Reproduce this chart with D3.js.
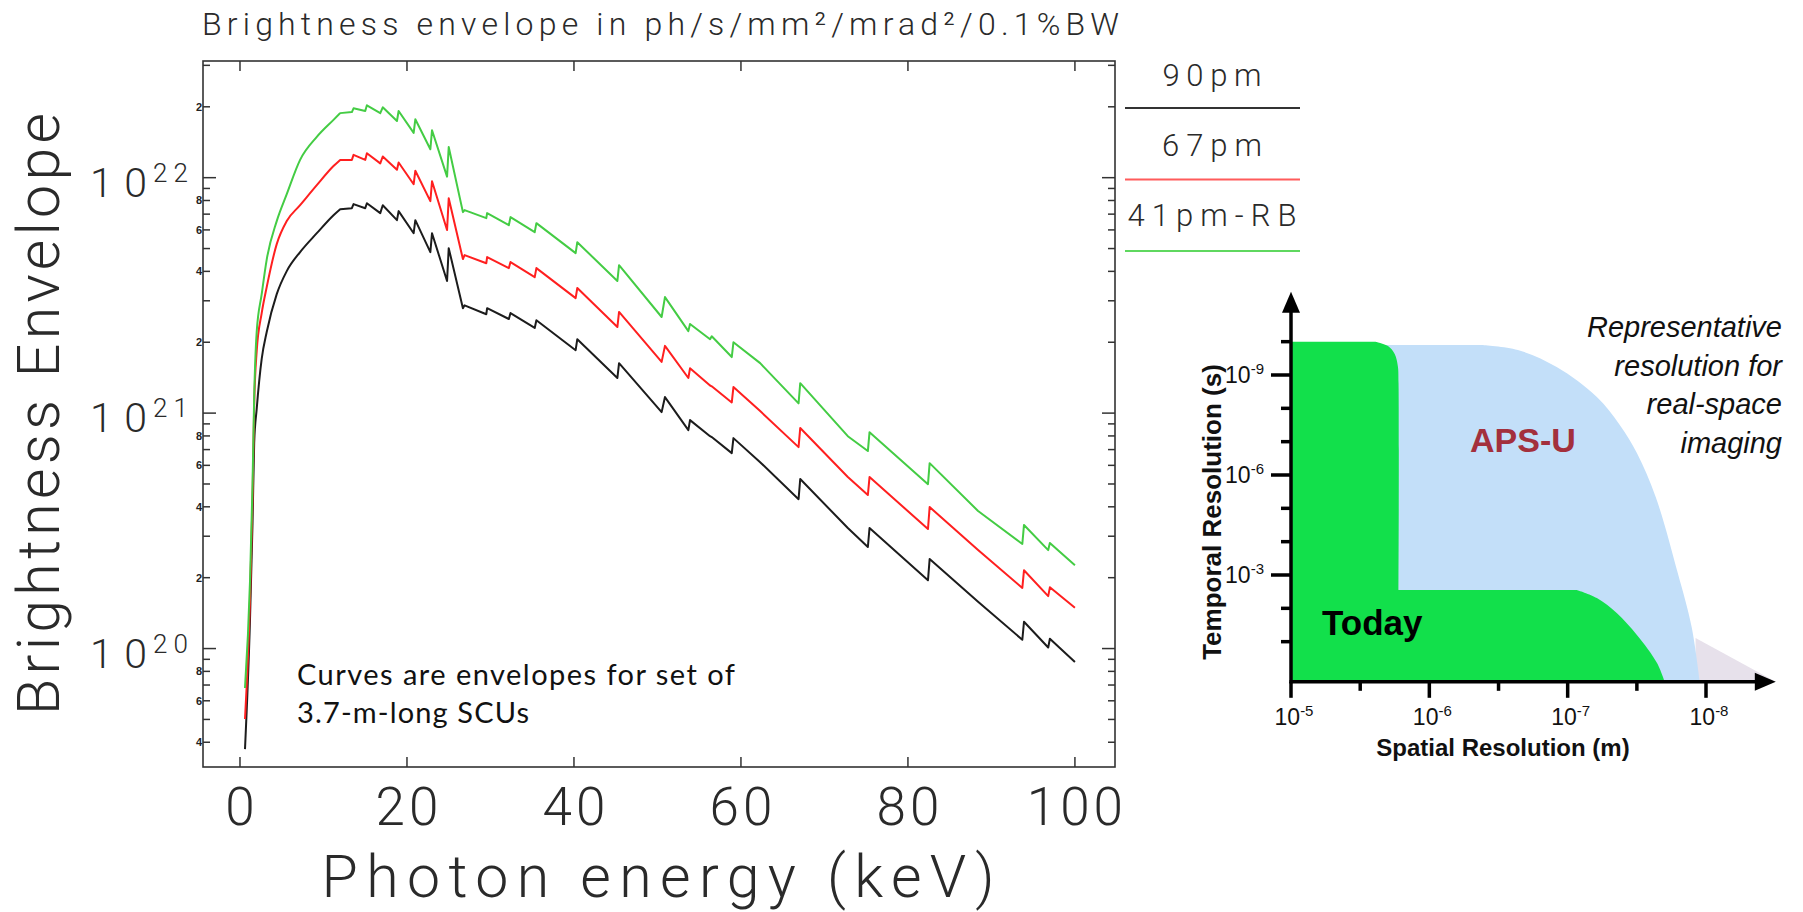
<!DOCTYPE html>
<html>
<head>
<meta charset="utf-8">
<script src="https://cdn.jsdelivr.net/npm/d3@7"></script>
<style>
  html, body { margin: 0; padding: 0; background: #fff; }
  svg { display: block; }
  .idl { font-family: Roboto, "DejaVu Sans", sans-serif; font-weight: 300; fill: #2a2a2a; }
  .arial { font-family: "Liberation Sans", Arial, sans-serif; fill: #111; }
</style>
</head>
<body>
<svg id="chart" width="1803" height="912"></svg>
<script>
// ---- main chart data (photon energy in keV, brightness in ph/s/mm2/mrad2/0.1%BW)
const energy = [0.6, 1.2, 1.5, 1.7, 2.0, 2.6, 3.2, 4.4, 5.6, 7.2, 9.2, 11.2, 12.0, 13.4, 13.6, 15.0, 15.2,
  16.8, 17.1, 18.8, 19.0, 20.8, 21.0, 22.8, 23.0, 24.8, 25.0, 26.7, 26.9, 29.5, 29.6, 32.2, 32.4, 35.3, 35.5,
  40.2, 40.4, 45.2, 45.4, 50.5, 50.9, 53.7, 53.9, 56.3, 56.5, 58.9, 59.1, 62.3, 66.9, 67.1, 72.8, 75.2, 75.4,
  82.4, 82.6, 88.4, 93.7, 93.9, 96.8, 97.0, 100];

const bright90 = [3.74e19, 1.33e20, 3.38e20, 7.46e20, 1.04e21, 1.70e21, 2.21e21, 3.20e21, 4.01e21, 4.83e21,
  5.81e21, 6.93e21, 7.35e21, 7.42e21, 7.72e21, 7.42e21, 7.79e21, 7.07e21, 7.64e21, 6.60e21,
  7.21e21, 5.81e21, 6.60e21, 4.83e21, 5.81e21, 3.64e21, 5.02e21, 2.79e21, 2.87e21, 2.63e21,
  2.79e21, 2.51e21, 2.66e21, 2.30e21, 2.48e21, 1.85e21, 2.06e21, 1.41e21, 1.63e21, 1.01e21,
  1.17e21, 8.47e20, 9.34e20, 7.98e20, 7.91e20, 6.76e20, 7.83e20, 6.19e20, 4.31e20, 5.25e20,
  3.25e20, 2.70e20, 3.25e20, 1.95e20, 2.40e20, 1.58e20, 1.09e20, 1.30e20, 1.01e20, 1.10e20, 8.76e19];

const bright67 = [5.02e19, 1.61e20, 4.27e20, 1.08e21, 1.83e21, 2.66e21, 3.43e21, 5.22e21, 6.54e21, 7.64e21,
  9.29e21, 1.12e22, 1.19e22, 1.19e22, 1.25e22, 1.19e22, 1.27e22, 1.15e22, 1.23e22, 1.08e22,
  1.16e22, 9.38e21, 1.07e22, 7.95e21, 9.66e21, 5.99e21, 8.18e21, 4.51e21, 4.69e21, 4.33e21,
  4.60e21, 4.13e21, 4.38e21, 3.78e21, 4.13e21, 3.08e21, 3.40e21, 2.32e21, 2.69e21, 1.65e21,
  1.93e21, 1.41e21, 1.55e21, 1.31e21, 1.30e21, 1.11e21, 1.29e21, 1.02e21, 7.17e20, 8.64e20,
  5.35e20, 4.49e20, 5.35e20, 3.22e20, 3.99e20, 2.62e20, 1.81e20, 2.15e20, 1.67e20, 1.82e20, 1.49e20];

const bright41 = [6.8e19, 1.93e20, 4.95e20, 1.17e21, 2.21e21, 3.20e21, 4.49e21, 6.54e21, 8.51e21, 1.19e22,
  1.49e22, 1.76e22, 1.88e22, 1.90e22, 1.97e22, 1.92e22, 2.03e22, 1.88e22, 1.99e22, 1.74e22,
  1.92e22, 1.55e22, 1.77e22, 1.32e22, 1.59e22, 1.01e22, 1.35e22, 7.14e21, 7.28e21, 6.73e21,
  7.07e21, 6.28e21, 6.80e21, 5.87e21, 6.41e21, 4.78e21, 5.32e21, 3.64e21, 4.25e21, 2.56e21,
  3.11e21, 2.23e21, 2.39e21, 2.06e21, 2.12e21, 1.73e21, 2.00e21, 1.63e21, 1.10e21, 1.34e21,
  7.98e20, 6.90e20, 8.30e20, 4.99e20, 6.13e20, 3.84e20, 2.78e20, 3.35e20, 2.62e20, 2.81e20, 2.26e20];

const seriesNames = ["90pm", "67pm", "41pm-RB"];
const xTickValues = [0, 20, 40, 60, 80, 100];

// ---- inset data: [spatial resolution (m), temporal resolution (s)], listed top to bottom
const spatialTicks = [1e-5, 1e-6, 1e-7, 1e-8];
const spatialMinor = [3.16e-6, 3.16e-7, 3.16e-8];
const temporalTicks = [1e-9, 1e-6, 1e-3];
const temporalMinor = [1e-10, 1e-8, 1e-7, 1e-5, 1e-4, 1e-2, 1e-1];

const todayUpper = [[2.47e-6, 1.0e-10], [1.99e-6, 1.35e-10], [1.78e-6, 2.34e-10], [1.69e-6, 5.4e-10],
  [1.67e-6, 1.74e-9], [1.67e-6, 2.8e-3]];
const todayLower = [[8.59e-8, 2.8e-3], [6.15e-8, 4.9e-3], [4.42e-8, 1.38e-2], [3.16e-8, 6.3e-2],
  [2.26e-8, 0.436], [1.99e-8, 1.6]];

const apsuEdge = [[4.17e-7, 1.26e-10], [2.29e-7, 1.78e-10], [1.20e-7, 5.75e-10],
  [6.15e-8, 4.6e-9], [4.2e-8, 3.16e-8], [3.16e-8, 2.19e-7], [2.31e-8, 4.57e-6], [1.60e-8, 8.7e-4],
  [1.27e-8, 3.6e-2], [1.11e-8, 1.6]];

const futureRegion = [[1.19e-8, 7.8e-2], [3.13e-9, 1.6], [1.19e-8, 1.6]];

const svg = d3.select("#chart");

// ================= main chart =================
const M = { left: 203, right: 1115, top: 61, bottom: 767 };
const x = d3.scaleLinear().domain([-4.43, 104.8]).range([M.left, M.right]);
const y = d3.scaleLog().domain([3.14e19, 3.13e22]).range([M.bottom, M.top]);

svg.append("defs").append("clipPath").attr("id", "plotClip")
  .append("rect")
  .attr("x", M.left).attr("y", M.top)
  .attr("width", M.right - M.left).attr("height", M.bottom - M.top);

const series = [
  { name: seriesNames[0], values: bright90, color: "#1c1c1c", legend: "#333" },
  { name: seriesNames[1], values: bright67, color: "#ff1f1f", legend: "#ff5b5b" },
  { name: seriesNames[2], values: bright41, color: "#44cc44", legend: "#5fd85f" }
];

// smooth rise up to the first harmonic teeth, straight segments (sharp teeth) after
const riseEnd = 12;
const smoothLine = d3.line().x(d => x(d[0])).y(d => y(d[1])).curve(d3.curveMonotoneX);
const sharpLine = d3.line().x(d => x(d[0])).y(d => y(d[1]));
const curvePath = vals => {
  const pts = energy.map((e, i) => [e, vals[i]]);
  return smoothLine(pts.slice(0, riseEnd + 1)) + sharpLine(pts.slice(riseEnd)).replace(/^M[^L]*/, "");
};

svg.append("g")
  .attr("clip-path", "url(#plotClip)")
  .selectAll("path")
  .data(series)
  .join("path")
  .attr("fill", "none")
  .attr("stroke", d => d.color)
  .attr("stroke-width", 2)
  .attr("stroke-linejoin", "round")
  .attr("d", d => curvePath(d.values));

// frame
svg.append("rect")
  .attr("x", M.left).attr("y", M.top)
  .attr("width", M.right - M.left).attr("height", M.bottom - M.top)
  .attr("fill", "none").attr("stroke", "#333").attr("stroke-width", 1.6);

const axisG = svg.append("g").attr("stroke", "#333").attr("stroke-width", 1.5);

xTickValues.forEach(v => {
  axisG.append("line").attr("x1", x(v)).attr("x2", x(v)).attr("y1", M.bottom).attr("y2", M.bottom - 10);
  axisG.append("line").attr("x1", x(v)).attr("x2", x(v)).attr("y1", M.top).attr("y2", M.top + 10);
});

const mantissa = v => Math.round(v / Math.pow(10, Math.floor(Math.log10(v) + 1e-9)));
y.ticks().forEach(v => {
  const len = mantissa(v) === 1 ? 13 : 7;
  axisG.append("line").attr("x1", M.left).attr("x2", M.left + len).attr("y1", y(v)).attr("y2", y(v));
  axisG.append("line").attr("x1", M.right).attr("x2", M.right - len).attr("y1", y(v)).attr("y2", y(v));
});

svg.append("g")
  .selectAll("text")
  .data(xTickValues)
  .join("text")
  .attr("class", "idl")
  .attr("x", d => x(d) + 2)
  .attr("y", 825)
  .attr("text-anchor", "middle")
  .attr("font-size", 53)
  .attr("letter-spacing", 4)
  .text(d => d);

svg.append("g")
  .selectAll("text")
  .data(y.ticks().filter(v => [2, 4, 6, 8].includes(mantissa(v))))
  .join("text")
  .attr("x", M.left - 1)
  .attr("y", d => y(d))
  .attr("dy", "0.36em")
  .attr("text-anchor", "end")
  .attr("font-family", "Liberation Sans, Arial, sans-serif")
  .attr("font-weight", "bold")
  .attr("font-size", 11)
  .attr("fill", "#222")
  .text(d => mantissa(d));

const decades = y.ticks().filter(v => mantissa(v) === 1);
const decG = svg.append("g").selectAll("g").data(decades).join("g");
decG.append("text")
  .attr("class", "idl")
  .attr("x", 147).attr("y", d => y(d) + 19)
  .attr("text-anchor", "end")
  .attr("font-size", 41)
  .attr("textLength", 57).attr("lengthAdjust", "spacing")
  .text("10");
decG.append("text")
  .attr("class", "idl")
  .attr("x", 153).attr("y", d => y(d) + 4)
  .attr("font-size", 26)
  .attr("textLength", 35).attr("lengthAdjust", "spacing")
  .text(d => Math.round(Math.log10(d)));

svg.append("text")
  .attr("class", "idl")
  .attr("x", 202).attr("y", 35)
  .attr("font-size", 32)
  .attr("textLength", 917).attr("lengthAdjust", "spacing")
  .text("Brightness envelope in ph/s/mm²/mrad²/0.1%BW");

svg.append("text")
  .attr("class", "idl")
  .attr("x", 658).attr("y", 897)
  .attr("text-anchor", "middle")
  .attr("font-size", 59)
  .attr("textLength", 673).attr("lengthAdjust", "spacing")
  .text("Photon energy (keV)");

svg.append("text")
  .attr("class", "idl")
  .attr("transform", "translate(59,414) rotate(-90)")
  .attr("text-anchor", "middle")
  .attr("font-size", 59)
  .attr("textLength", 602).attr("lengthAdjust", "spacing")
  .text("Brightness Envelope");

// annotation
const noteLines = ["Curves are envelopes for set of", "3.7-m-long SCUs"];
const noteWidths = [438, 232];
svg.append("text")
  .attr("font-family", "Lato, 'Open Sans', sans-serif")
  .attr("font-size", 29)
  .attr("fill", "#111")
  .selectAll("tspan")
  .data(noteLines)
  .join("tspan")
  .attr("x", 297)
  .attr("y", (d, i) => 685 + i * 38)
  .attr("textLength", (d, i) => noteWidths[i])
  .attr("lengthAdjust", "spacing")
  .text(d => d);

// legend
const legendWidths = [99, 100, 169];
const legendG = svg.append("g").selectAll("g").data(series).join("g");
legendG.append("text")
  .attr("class", "idl")
  .attr("x", 1212)
  .attr("y", (d, i) => 86 + i * 70)
  .attr("text-anchor", "middle")
  .attr("font-size", 31)
  .attr("textLength", (d, i) => legendWidths[i]).attr("lengthAdjust", "spacing")
  .text(d => d.name);
legendG.append("line")
  .attr("x1", 1125).attr("x2", 1300)
  .attr("y1", (d, i) => 108 + i * 71.5)
  .attr("y2", (d, i) => 108 + i * 71.5)
  .attr("stroke", d => d.legend)
  .attr("stroke-width", 2);

// ================= inset =================
const xs = d3.scaleLog().domain([1e-5, 1e-8]).range([1291, 1706]);
const yt = d3.scaleLog().domain([1e-9, 1e-3]).range([375, 575]);
const tBottom = 1.6, tTop = 3.2e-12, sEnd = 3.13e-9;

const region = d3.area()
  .y(d => yt(d[1]))
  .x0(xs(1e-5))
  .x1(d => xs(d[0]))
  .curve(d3.curveCatmullRom.alpha(0.5));
const polygon = d3.line().x(d => xs(d[0])).y(d => yt(d[1])).curve(d3.curveLinearClosed);

const inset = svg.append("g");
inset.append("path").attr("d", polygon(futureRegion)).attr("fill", "#e7e1eb");
inset.append("path").attr("d", region(apsuEdge)).attr("fill", "#c3dff9");
inset.append("path").attr("d", region(todayUpper)).attr("fill", "#12e04b");
inset.append("path").attr("d", region(todayLower)).attr("fill", "#12e04b");

const ax = inset.append("g").attr("stroke", "#000").attr("stroke-width", 3.5);
ax.append("line").attr("x1", xs(1e-5)).attr("x2", xs(1e-5)).attr("y1", yt(tBottom) + 1.5).attr("y2", yt(tTop) + 16);
ax.append("line").attr("x1", xs(1e-5) - 1.5).attr("x2", xs(sEnd) - 16).attr("y1", yt(tBottom)).attr("y2", yt(tBottom));

temporalTicks.forEach(v => ax.append("line").attr("x1", xs(1e-5) - 20).attr("x2", xs(1e-5)).attr("y1", yt(v)).attr("y2", yt(v)));
temporalMinor.forEach(v => ax.append("line").attr("x1", xs(1e-5) - 10).attr("x2", xs(1e-5)).attr("y1", yt(v)).attr("y2", yt(v)));
spatialTicks.forEach(v => ax.append("line").attr("x1", xs(v)).attr("x2", xs(v)).attr("y1", yt(tBottom)).attr("y2", yt(tBottom) + 16));
spatialMinor.forEach(v => ax.append("line").attr("x1", xs(v)).attr("x2", xs(v)).attr("y1", yt(tBottom)).attr("y2", yt(tBottom) + 9));

inset.append("path")
  .attr("d", `M${xs(1e-5)},${yt(tTop)} l-9,21 l18,0 z`)
  .attr("fill", "#000");
inset.append("path")
  .attr("d", `M${xs(sEnd)},${yt(tBottom)} l-21,-9 l0,18 z`)
  .attr("fill", "#000");

const powLabel = (sel, v) => {
  const e = Math.round(Math.log10(v));
  sel.append("tspan").text("10");
  sel.append("tspan").attr("dy", -9).attr("font-size", 15).text(e);
};
spatialTicks.forEach(v => {
  inset.append("text").attr("class", "arial")
    .attr("x", xs(v) + 3).attr("y", 725)
    .attr("text-anchor", "middle")
    .attr("font-size", 23)
    .call(powLabel, v);
});
temporalTicks.forEach(v => {
  inset.append("text").attr("class", "arial")
    .attr("x", 1264).attr("y", yt(v) + 8)
    .attr("text-anchor", "end")
    .attr("font-size", 23)
    .call(powLabel, v);
});

inset.append("text").attr("class", "arial")
  .attr("x", 1503).attr("y", 756)
  .attr("text-anchor", "middle")
  .attr("font-size", 24).attr("font-weight", "bold")
  .text("Spatial Resolution (m)");

inset.append("text").attr("class", "arial")
  .attr("transform", "translate(1221,512) rotate(-90)")
  .attr("text-anchor", "middle")
  .attr("font-size", 26).attr("font-weight", "bold")
  .text("Temporal Resolution (s)");

inset.append("text").attr("class", "arial")
  .attr("x", 1470).attr("y", 452)
  .attr("font-size", 34).attr("font-weight", "bold")
  .style("fill", "#a3303d")
  .text("APS-U");

inset.append("text").attr("class", "arial")
  .attr("x", 1322).attr("y", 635)
  .attr("font-size", 35).attr("font-weight", "bold")
  .style("fill", "#000")
  .text("Today");

inset.append("text").attr("class", "arial")
  .attr("font-size", 29).attr("font-style", "italic")
  .attr("text-anchor", "end")
  .selectAll("tspan")
  .data(["Representative", "resolution for", "real-space", "imaging"])
  .join("tspan")
  .attr("x", 1782)
  .attr("y", (d, i) => 337 + i * 38.5)
  .text(d => d);
</script>
</body>
</html>
